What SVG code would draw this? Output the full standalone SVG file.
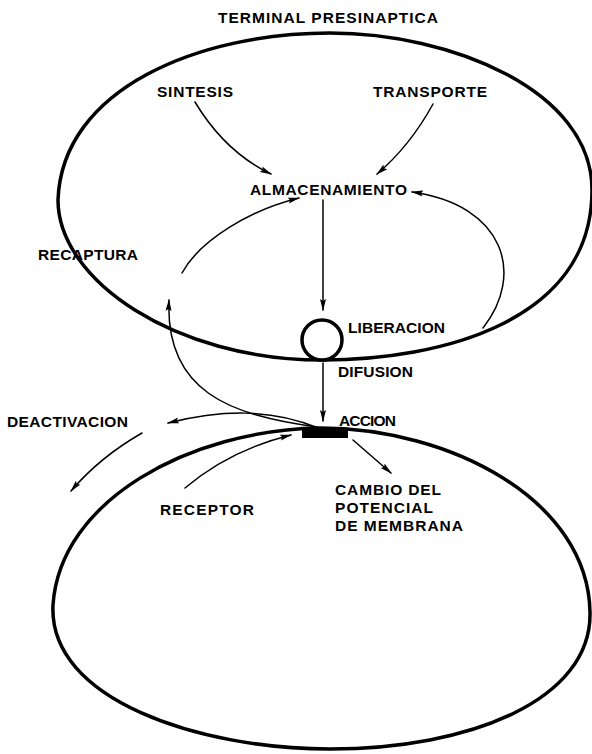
<svg xmlns="http://www.w3.org/2000/svg" width="592" height="754" viewBox="0 0 592 754">
<style>
text{font-family:"Liberation Sans",Arial,sans-serif;font-weight:bold;font-size:15.5px;fill:#000;}
.mem{fill:none;stroke:#000;stroke-width:3.5;stroke-linejoin:round;}
.c{fill:none;stroke:#000;stroke-width:1.5;stroke-linecap:round;}
.ca{fill:none;stroke:#000;stroke-width:1.5;stroke-linecap:round;marker-end:url(#ah);}
</style>
<defs>
<marker id="ah" viewBox="0 0 12 8" refX="11" refY="4" markerWidth="12" markerHeight="8" markerUnits="userSpaceOnUse" orient="auto">
<path d="M0,1 L12,4 L0,7 L2,4 z" fill="#000"/>
</marker>
</defs>
<rect width="592" height="754" fill="#fff"/>

<g id="terminal-presinaptica">
<path class="mem" d="M330,33 C200,33 62,88 58,200 C58,280 175,360 322,360 C440,360 592,322 592,190 C592,90 450,33 330,33 Z"/>
<text x="218" y="23" textLength="220" lengthAdjust="spacing">TERMINAL PRESINAPTICA</text>
</g>

<g id="postsinaptica">
<path class="mem" d="M320,428 C190,430 60,500 53,605 C48,700 200,749 330,749 C470,749 592,700 590,612 C588,500 450,428 320,428 Z"/>
</g>

<g id="sintesis"><text x="157" y="97" textLength="76" lengthAdjust="spacing">SINTESIS</text></g>
<g id="transporte"><text x="373" y="97" textLength="114" lengthAdjust="spacing">TRANSPORTE</text></g>
<g id="almacenamiento"><text x="250" y="195" textLength="157" lengthAdjust="spacing">ALMACENAMIENTO</text></g>
<g id="recaptura"><text x="38" y="260" textLength="100" lengthAdjust="spacing">RECAPTURA</text></g>
<g id="liberacion">
<circle cx="322" cy="340" r="20" fill="#fff" stroke="#000" stroke-width="3.5"/>
<text x="348" y="333" textLength="97" lengthAdjust="spacing">LIBERACION</text>
</g>
<g id="difusion"><text x="338" y="377" textLength="75" lengthAdjust="spacing">DIFUSION</text></g>
<g id="accion">
<rect x="302" y="428" width="46" height="10" fill="#000"/>
<text x="339" y="426" textLength="57" lengthAdjust="spacing">ACCION</text>
</g>
<g id="deactivacion"><text x="7" y="427" textLength="121" lengthAdjust="spacing">DEACTIVACION</text></g>
<g id="receptor"><text x="160" y="515" textLength="94" lengthAdjust="spacing">RECEPTOR</text></g>
<g id="cambio">
<text x="335" y="495" textLength="106" lengthAdjust="spacing">CAMBIO DEL</text>
<text x="335" y="513" textLength="98" lengthAdjust="spacing">POTENCIAL</text>
<text x="335" y="531" textLength="128" lengthAdjust="spacing">DE MEMBRANA</text>
</g>

<g id="connectors">
<path class="ca" d="M195,102 Q225,152 271,174"/>
<path class="ca" d="M433,104 Q410,146 377,174"/>
<path class="ca" d="M323,200 L323,310"/>
<path class="ca" d="M483,328 C525,275 505,205 412,192"/>
<path class="ca" d="M317,427 C230,415 165,392 169,300"/>
<path class="ca" d="M182,273 C200,240 250,210 299,198"/>
<path class="ca" d="M318,428 C270,408 220,410 168,423"/>
<path class="ca" d="M142,433 Q100,457 71,491"/>
<path class="ca" d="M185,488 Q230,450 291,435"/>
<path class="ca" d="M323,363 L323,421"/>
<path class="ca" d="M353,440 L391,473"/>
</g>
</svg>
